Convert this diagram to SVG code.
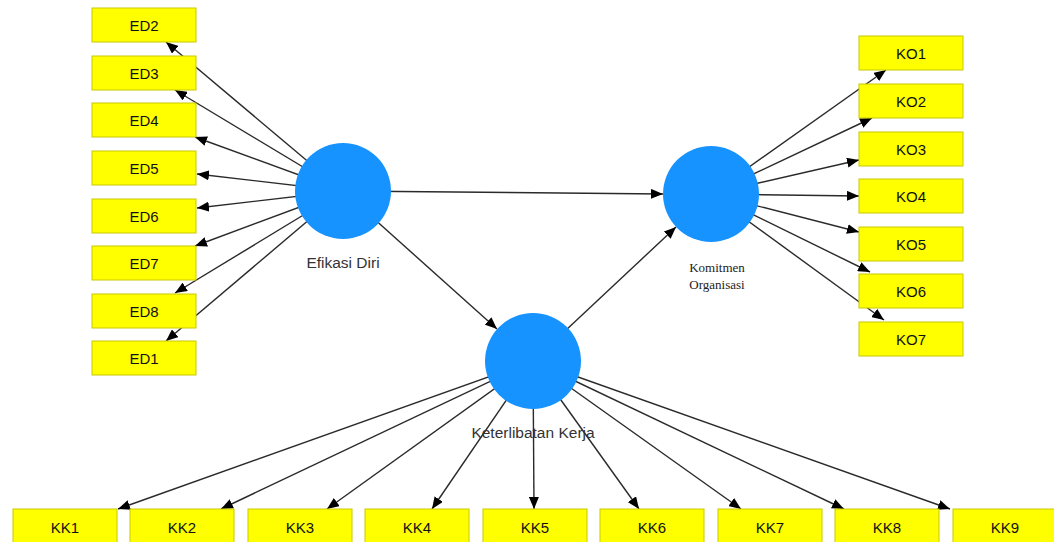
<svg xmlns="http://www.w3.org/2000/svg" width="1054" height="542" viewBox="0 0 1054 542">
<style>
.box{fill:#ffff00;stroke:#c9c900;stroke-width:1}
.bt{font-family:"Liberation Sans",Arial,sans-serif;font-size:15px;fill:#111;text-anchor:middle}
.lv{fill:#1793ff}
.lt{font-family:"Liberation Sans",Arial,sans-serif;font-size:15.5px;fill:#333;text-anchor:middle}
.ls{font-family:"Liberation Serif","Times New Roman",serif;font-size:13px;fill:#222;text-anchor:middle}
.c{stroke:#2a2a2a;stroke-width:1.4;fill:none;marker-end:url(#ah)}
</style>
<defs>
<marker id="ah" markerUnits="userSpaceOnUse" viewBox="0 0 12 10" refX="12" refY="5" markerWidth="12" markerHeight="10" orient="auto">
<path d="M0,0 L12,5 L0,10 z" fill="#000"/>
</marker>
</defs>
<rect width="1054" height="542" fill="#fff"/>
<g id="connectors">
<line class="c" x1="343" y1="191" x2="166" y2="42"/>
<line class="c" x1="343" y1="191" x2="175" y2="90"/>
<line class="c" x1="343" y1="191" x2="195" y2="137"/>
<line class="c" x1="343" y1="191" x2="197" y2="174"/>
<line class="c" x1="343" y1="191" x2="197" y2="208"/>
<line class="c" x1="343" y1="191" x2="195" y2="246"/>
<line class="c" x1="343" y1="191" x2="175" y2="293"/>
<line class="c" x1="343" y1="191" x2="166" y2="341"/>
<line class="c" x1="343" y1="191" x2="663" y2="194"/>
<line class="c" x1="343" y1="191" x2="497" y2="329"/>
<line class="c" x1="533" y1="361" x2="676" y2="227"/>
<line class="c" x1="711" y1="194" x2="886" y2="70"/>
<line class="c" x1="711" y1="194" x2="872" y2="118"/>
<line class="c" x1="711" y1="194" x2="859" y2="160"/>
<line class="c" x1="711" y1="194" x2="859" y2="196"/>
<line class="c" x1="711" y1="194" x2="859" y2="232"/>
<line class="c" x1="711" y1="194" x2="870" y2="272"/>
<line class="c" x1="711" y1="194" x2="884" y2="320"/>
<line class="c" x1="533" y1="361" x2="118" y2="509"/>
<line class="c" x1="533" y1="361" x2="221" y2="509"/>
<line class="c" x1="533" y1="361" x2="327" y2="509"/>
<line class="c" x1="533" y1="361" x2="432" y2="509"/>
<line class="c" x1="533" y1="361" x2="534" y2="509"/>
<line class="c" x1="533" y1="361" x2="639" y2="509"/>
<line class="c" x1="533" y1="361" x2="741" y2="509"/>
<line class="c" x1="533" y1="361" x2="844" y2="509"/>
<line class="c" x1="533" y1="361" x2="950" y2="509"/>
</g>
<g id="efikasi-diri"><circle class="lv" cx="343" cy="191" r="48"/><text class="lt" x="343" y="268">Efikasi Diri</text></g>
<g id="komitmen-organisasi"><circle class="lv" cx="711" cy="194" r="48"/><text class="ls" x="717" y="272">Komitmen</text><text class="ls" x="717" y="289">Organisasi</text></g>
<g id="keterlibatan-kerja"><circle class="lv" cx="533" cy="361" r="48"/><text class="lt" x="533" y="438">Keterlibatan Kerja</text></g>
<g id="ED2"><rect class="box" x="92" y="8" width="104" height="34"/><text class="bt" x="144" y="31">ED2</text></g>
<g id="ED3"><rect class="box" x="92" y="56" width="104" height="34"/><text class="bt" x="144" y="79">ED3</text></g>
<g id="ED4"><rect class="box" x="92" y="103" width="104" height="34"/><text class="bt" x="144" y="126">ED4</text></g>
<g id="ED5"><rect class="box" x="92" y="151" width="104" height="34"/><text class="bt" x="144" y="174">ED5</text></g>
<g id="ED6"><rect class="box" x="92" y="199" width="104" height="34"/><text class="bt" x="144" y="222">ED6</text></g>
<g id="ED7"><rect class="box" x="92" y="246" width="104" height="34"/><text class="bt" x="144" y="269">ED7</text></g>
<g id="ED8"><rect class="box" x="92" y="294" width="104" height="34"/><text class="bt" x="144" y="317">ED8</text></g>
<g id="ED1"><rect class="box" x="92" y="341" width="104" height="34"/><text class="bt" x="144" y="364">ED1</text></g>
<g id="KO1"><rect class="box" x="859" y="36" width="104" height="34"/><text class="bt" x="911" y="59">KO1</text></g>
<g id="KO2"><rect class="box" x="859" y="84" width="104" height="34"/><text class="bt" x="911" y="107">KO2</text></g>
<g id="KO3"><rect class="box" x="859" y="132" width="104" height="34"/><text class="bt" x="911" y="155">KO3</text></g>
<g id="KO4"><rect class="box" x="859" y="179" width="104" height="34"/><text class="bt" x="911" y="202">KO4</text></g>
<g id="KO5"><rect class="box" x="859" y="227" width="104" height="34"/><text class="bt" x="911" y="250">KO5</text></g>
<g id="KO6"><rect class="box" x="859" y="274" width="104" height="34"/><text class="bt" x="911" y="297">KO6</text></g>
<g id="KO7"><rect class="box" x="859" y="322" width="104" height="34"/><text class="bt" x="911" y="345">KO7</text></g>
<g id="KK1"><rect class="box" x="13" y="509" width="104" height="34"/><text class="bt" x="65" y="533">KK1</text></g>
<g id="KK2"><rect class="box" x="130" y="509" width="104" height="34"/><text class="bt" x="182" y="533">KK2</text></g>
<g id="KK3"><rect class="box" x="248" y="509" width="104" height="34"/><text class="bt" x="300" y="533">KK3</text></g>
<g id="KK4"><rect class="box" x="365" y="509" width="104" height="34"/><text class="bt" x="417" y="533">KK4</text></g>
<g id="KK5"><rect class="box" x="483" y="509" width="104" height="34"/><text class="bt" x="535" y="533">KK5</text></g>
<g id="KK6"><rect class="box" x="600" y="509" width="104" height="34"/><text class="bt" x="652" y="533">KK6</text></g>
<g id="KK7"><rect class="box" x="718" y="509" width="104" height="34"/><text class="bt" x="770" y="533">KK7</text></g>
<g id="KK8"><rect class="box" x="835" y="509" width="104" height="34"/><text class="bt" x="887" y="533">KK8</text></g>
<g id="KK9"><rect class="box" x="953" y="509" width="104" height="34"/><text class="bt" x="1005" y="533">KK9</text></g>
</svg>
